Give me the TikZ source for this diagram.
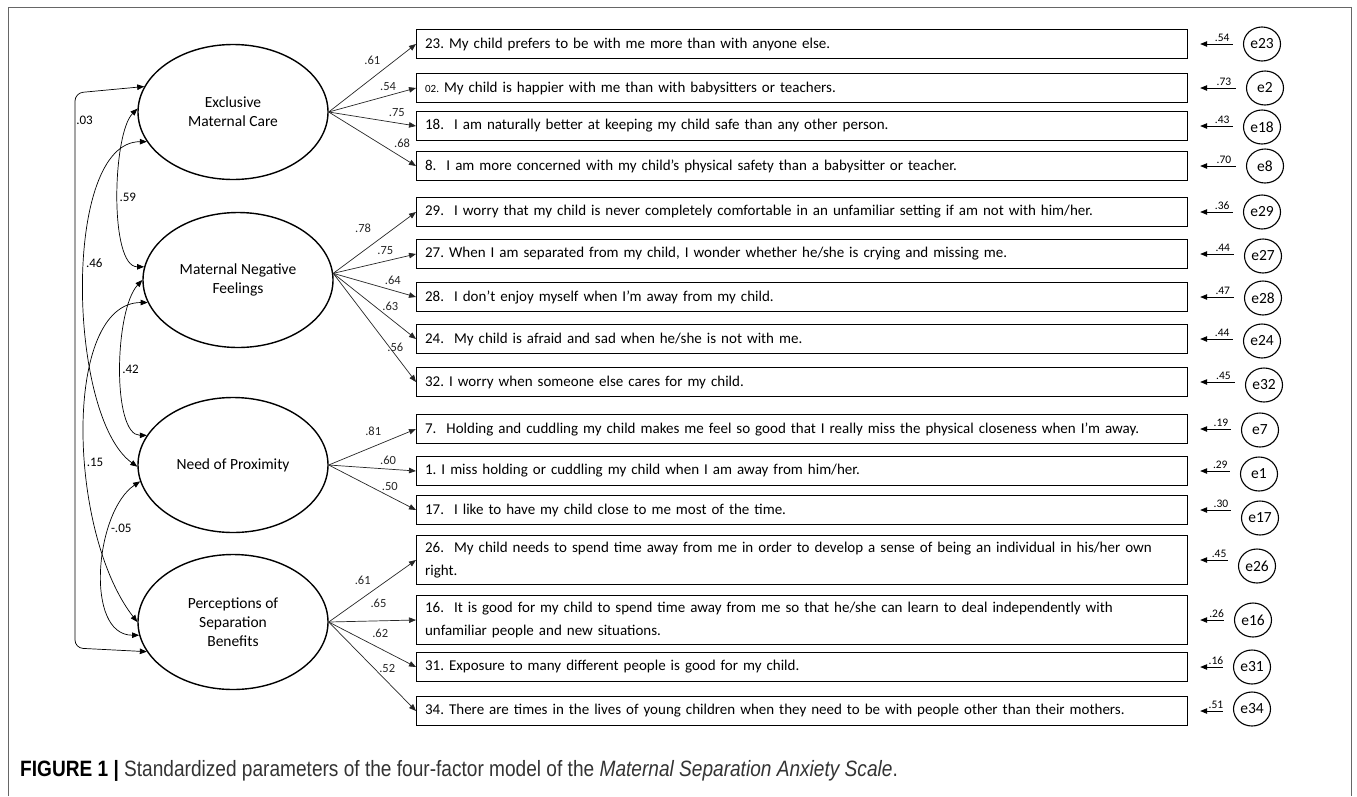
\documentclass[tikz,border=0pt]{standalone}
\usepackage{fontspec}
\setmainfont{Carlito}
\newfontfamily\captionfont[FakeStretch=0.86]{Liberation Sans}
\usetikzlibrary{arrows.meta,shapes.geometric}
\frenchspacing

\begin{document}
\begin{tikzpicture}[x=1pt, y=-1pt, >={Triangle[length=7pt,width=5.5pt]},
    factor/.style={ellipse, draw, line width=1.4pt, minimum width=190pt, minimum height=135pt,
                   align=center, font=\fontsize{15.5}{19}\selectfont},
    item/.style={rectangle, draw, line width=1.2pt, anchor=west, minimum height=29pt,
                 text width=754pt, inner xsep=8.5pt, align=left, font=\fontsize{15}{23.5}\selectfont},
    item2/.style={item, minimum height=49pt},
    errc/.style={ellipse, draw, line width=1.1pt, minimum width=37pt, minimum height=34pt,
                 inner sep=0pt, font=\fontsize{15.5}{17}\selectfont},
    cov/.style={<->, draw, line width=.7pt},
    lbl/.style={font=\fontsize{13}{15}\selectfont, inner sep=1pt}]

    \useasboundingbox (0,0) rectangle (1357,796);
    \draw[black!60, line width=1pt] (8,796) -- (8,7) -- (1351,7) -- (1351,796);

    % latent factors
    \node[factor] (emc) at (233,112) {Exclusive\\Maternal Care};
    \node[factor] (mnf) at (238,280) {Maternal Negative\\Feelings};
    \node[factor] (nop) at (233,465) {Need of Proximity};
    \node[factor] (psb) at (233,622) {Perceptions of\\Separation\\Benefits};

    % items
    \node[item] (i23) at (416,44)  {23. My child prefers to be with me more than with anyone else.};
    \node[item] (i2)  at (416,88)  {{\fontsize{11}{13}\selectfont 02.} My child is happier with me than with babysitters or teachers.};
    \node[item] (i18) at (416,126) {18.\ \ I am naturally better at keeping my child safe than any other person.};
    \node[item] (i8)  at (416,166) {8.\ \ I am more concerned with my child's physical safety than a babysitter or teacher.};
    \node[item] (i29) at (416,212) {29.\ \ I worry that my child is never completely comfortable in an unfamiliar setting if am not with him/her.};
    \node[item] (i27) at (416,254) {27. When I am separated from my child, I wonder whether he/she is crying and missing me.};
    \node[item] (i28) at (416,297) {28.\ \ I don't enjoy myself when I'm away from my child.};
    \node[item] (i24) at (416,339) {24.\ \ My child is afraid and sad when he/she is not with me.};
    \node[item] (i32) at (416,382) {32. I worry when someone else cares for my child.};
    \node[item] (i7)  at (416,429) {7.\ \ Holding and cuddling my child makes me feel so good that I really miss the physical closeness when I'm away.};
    \node[item] (i1)  at (416,471) {1. I miss holding or cuddling my child when I am away from him/her.};
    \node[item] (i17) at (416,510) {17.\ \ I like to have my child close to me most of the time.};
    \node[item2] (i26) at (416,560) {26.\ \ My child needs to spend time away from me in order to develop a sense of being an individual in his/her own\\right.};
    \node[item2] (i16) at (416,620) {16.\ \ It is good for my child to spend time away from me so that he/she can learn to deal independently with\\unfamiliar people and new situations.};
    \node[item] (i31) at (416,667) {31. Exposure to many different people is good for my child.};
    \node[item] (i34) at (416,711) {34. There are times in the lives of young children when they need to be with people other than their mothers.};

    % error terms
    \node[errc] (e23) at (1262,44)  {e23};
    \node[errc] (e2)  at (1265,88)  {e2};
    \node[errc] (e18) at (1262,127) {e18};
    \node[errc] (e8)  at (1265,166) {e8};
    \node[errc] (e29) at (1262,212) {e29};
    \node[errc] (e27) at (1263,256) {e27};
    \node[errc] (e28) at (1263,298) {e28};
    \node[errc] (e24) at (1262,341) {e24};
    \node[errc] (e32) at (1264,385) {e32};
    \node[errc] (e7)  at (1260,430) {e7};
    \node[errc] (e1)  at (1259,474) {e1};
    \node[errc] (e17) at (1260,518) {e17};
    \node[errc] (e26) at (1257,566) {e26};
    \node[errc] (e16) at (1253,620) {e16};
    \node[errc] (e31) at (1252,667) {e31};
    \node[errc] (e34) at (1252,709) {e34};

    % loadings
    \begin{scope}[every edge/.style={draw, ->, line width=.7pt, black!85},
                  every node/.style={font=\fontsize{12.5}{14}\selectfont}]
        \path (emc.east) edge node[pos=.50, yshift=18] {.61} (i23.west);
        \path (emc.east) edge node[pos=.68, yshift=9]  {.54} (i2.west);
        \path (emc.east) edge node[pos=.78, yshift=10] {.75} (i18.west);
        \path (emc.east) edge node[pos=.84, yshift=14] {.68} (i8.west);
        \path (mnf.4) edge node[pos=.36, yshift=23] {.78} (i29.west);
        \path (mnf.4) edge node[pos=.63, yshift=11] {.75} (i27.west);
        \path (mnf.4) edge node[pos=.72, yshift=10] {.64} (i28.west);
        \path (mnf.4) edge node[pos=.69, yshift=12] {.63} (i24.west);
        \path (mnf.4) edge node[pos=.75, yshift=8]  {.56} (i32.west);
        \path (nop.east) edge node[pos=.51, yshift=15] {.81} (i7.west);
        \path (nop.east) edge node[pos=.68, yshift=9]  {.60} (i1.west);
        \path (nop.east) edge node[pos=.70, yshift=10] {.50} (i17.west);
        \path (psb.east) edge node[pos=.39, yshift=18] {.61} (i26.west);
        \path (psb.east) edge node[pos=.57, yshift=18] {.65} (i16.west);
        \path (psb.east) edge node[pos=.59, yshift=15] {.62} (i31.west);
        \path (psb.east) edge node[pos=.67, yshift=13] {.52} (i34.west);
    \end{scope}

    % residuals
    \begin{scope}[every node/.style={above, inner sep=2pt, font=\fontsize{11.5}{13}\selectfont},
                  every path/.style={->, line width=.7pt, shorten <=10pt, shorten >=12pt}]
        \draw (e23.west |- i23.east) -- node[pos=.38] {.54} (i23.east);
        \draw (e2.west |- i2.east)   -- node[pos=.38] {.73} (i2.east);
        \draw (e18.west |- i18.east) -- node[pos=.38] {.43} (i18.east);
        \draw (e8.west |- i8.east)   -- node[pos=.38] {.70} (i8.east);
        \draw (e29.west |- i29.east) -- node[pos=.38] {.36} (i29.east);
        \draw (e27.west |- i27.east) -- node[pos=.38] {.44} (i27.east);
        \draw (e28.west |- i28.east) -- node[pos=.38] {.47} (i28.east);
        \draw (e24.west |- i24.east) -- node[pos=.38] {.44} (i24.east);
        \draw (e32.west |- i32.east) -- node[pos=.38] {.45} (i32.east);
        \draw (e7.west |- i7.east)   -- node[pos=.38] {.19} (i7.east);
        \draw (e1.west |- i1.east)   -- node[pos=.38] {.29} (i1.east);
        \draw (e17.west |- i17.east) -- node[pos=.38] {.30} (i17.east);
        \draw (e26.west |- i26.east) -- node[pos=.38] {.45} (i26.east);
        \draw (e16.west |- i16.east) -- node[pos=.38] {.26} (i16.east);
        \draw (e31.west |- i31.east) -- node[pos=.38] {.16} (i31.east);
        \draw (e34.west |- i34.east) -- node[pos=.38] {.51} (i34.east);
    \end{scope}

    % factor covariances
    \coordinate (c03a) at (75,93);
    \coordinate (c03b) at (75,648);
    \draw[cov, rounded corners=8pt] (emc.164) -- (c03a) -- node[lbl, pos=.05, right] {.03} (c03b) -- (psb.199);
    \draw[cov] (emc.178) .. controls +(-25,25) and +(-35,0) .. node[lbl, pos=.5, right] {.59} (mnf.172);
    \draw[cov] (emc.199) .. controls +(-85,0) and +(-70,-50) .. node[lbl, pos=.45, right] {.46} (nop.181);
    \draw[cov] (mnf.180) .. controls +(-28,30) and +(-35,0) .. node[lbl, pos=.5, right] {.42} (nop.161);
    \draw[cov] (mnf.194) .. controls +(-85,0) and +(-70,-90) .. node[lbl, pos=.58, right] {.15} (psb.180);
    \draw[cov] (nop.190) .. controls +(-45,30) and +(-55,0) .. node[lbl, pos=.3, right] {-.05} (psb.188);

    % caption
    \node[anchor=base west, inner sep=0pt, font=\captionfont\fontsize{22.2}{25}\selectfont] (cap) at (20,776)
        {\textbf{FIGURE 1 |} {\color{black!80}Standardized parameters of the four-factor model of the \textit{Maternal Separation Anxiety Scale}.}};
\end{tikzpicture}
\end{document}
